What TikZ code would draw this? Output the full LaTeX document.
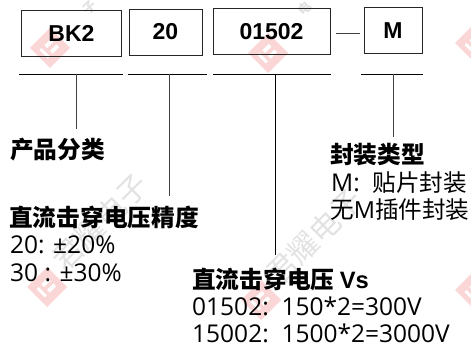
\documentclass[tikz,border=0pt]{standalone}
\usepackage{fontspec}
\setmainfont{Open Sans}
\newfontfamily\cjk{Noto Sans CJK SC}
\newfontfamily\arl{Liberation Sans}
\newcommand{\cjksmall}{\cjk\fontsize{23.6}{26}\selectfont}
\definecolor{wred}{RGB}{251,214,214}
\definecolor{wgrey}{RGB}{226,226,226}
\tikzset{
  codebox/.style={draw=black!85,line width=0.9pt,inner sep=0pt,font=\arl\bfseries\fontsize{23}{24}\selectfont},
  rule/.style={draw=black,line width=0.8pt},
  drop/.style={draw=black!75,line width=0.9pt},
  head/.style={anchor=base west,inner sep=0pt,font=\cjk\bfseries\fontsize{23.7}{25}\selectfont},
  body/.style={anchor=base west,inner sep=0pt,font=\fontsize{24.5}{26}\selectfont},
  mark grey/.style={text=wgrey,inner sep=0pt,font=\cjk\fontsize{30}{32}\selectfont,rotate=45},
  mark bit/.style={text=wgrey,inner sep=0pt,font=\cjk\bfseries\fontsize{13}{14}\selectfont,rotate=45}
}
\newcommand{\ibmark}[2]{\fill[wred,shift={(#1,#2)}] (-20,0) -- (0,-20) -- (20,0) -- (0,20) -- cycle;
  \fill[white,shift={(#1,#2)},rotate=45] (-9,-6) rectangle (-6,6) (-2,-6) rectangle (7,-2) (-2,2) rectangle (7,6);}
\begin{document}
\begin{tikzpicture}[x=1pt,y=-1pt]
\useasboundingbox (0,0) rectangle (471,347);
\clip (0,0) rectangle (471,347);
% watermarks
\ibmark{50}{48}\ibmark{268}{53}\ibmark{475}{43}\ibmark{47}{287}\ibmark{261}{300}\ibmark{475}{290}
\node[mark grey] (w1) at (100,222) {君耀电子};
\node[mark grey] (w2) at (314,237) {君耀电子};
\node[mark bit] (w3) at (90,8) {子};
\node[mark bit] (w4) at (305,8) {电};
% boxes
\node[codebox,minimum width=100pt,minimum height=46pt] (bk) at (71.5,33) {BK2};
\node[codebox,minimum width=73pt,minimum height=46pt] (pr) at (165.5,32) {20};
\node[codebox,minimum width=117pt,minimum height=46pt] (vs) at (271.5,31.5) {01502};
\node[codebox,minimum width=58pt,minimum height=46pt] (mm) at (393,30.5) {M};
% rules
\coordinate (r1a) at (19,74); \coordinate (r1b) at (123,74);
\coordinate (r2a) at (128,74); \coordinate (r2b) at (207,74);
\coordinate (r3a) at (213,74); \coordinate (r3b) at (331,74);
\coordinate (r4a) at (361,74); \coordinate (r4b) at (423,74);
\draw[rule] (r1a) -- (r1b);
\draw[rule] (r2a) -- (r2b);
\draw[rule] (r3a) -- (r3b);
\draw[rule] (r4a) -- (r4b);
\coordinate (d1) at (336,33); \coordinate (d2) at (360,33);
\draw[drop] (d1) -- (d2);
% drops
\coordinate (t1) at (76.5,74); \coordinate (e1) at (76.5,129);
\coordinate (t2) at (169,74); \coordinate (e2) at (169,196);
\coordinate (t3) at (275.5,74); \coordinate (e3) at (275.5,255);
\coordinate (t4) at (393,74); \coordinate (e4) at (393,137);
\draw[drop] (t1) -- (e1);
\draw[drop] (t2) -- (e2);
\draw[rule] (t3) -- (e3);
\draw[drop] (t4) -- (e4);
% labels
\node[head] (h1) at (10,159) {产品分类};
\node[head] (h2) at (9,227) {直流击穿电压精度};
\node[body] (b21) at (10,254) {20: ±20\%};
\node[body] (b22) at (10,282) {30 : ±30\%};
\node[head] (h3) at (192,288) {直流击穿电压 {\arl\bfseries Vs}};
\node[body] (b31) at (192,315) {01502:\ \ 150*2=300V};
\node[body] (b32) at (192,342) {15002:\ \ 1500*2=3000V};
\node[head] (h4) at (330,164) {封装类型};
\node[body] (b41) at (331,192) {M:\ \ {\cjksmall 贴片封装}};
\node[body,font=\fontsize{23.5}{26}\selectfont] (b42) at (330,219) {{\cjksmall 无}M{\cjksmall 插件封装}};
\end{tikzpicture}
\end{document}
